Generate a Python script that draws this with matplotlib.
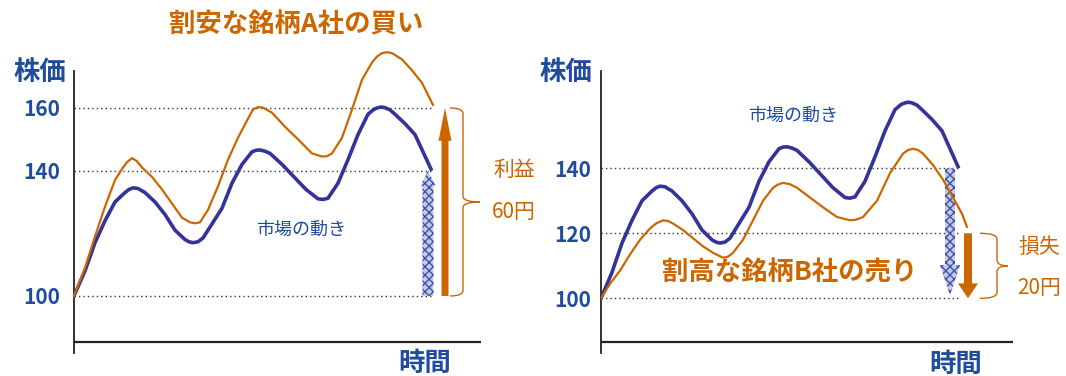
import matplotlib
matplotlib.use("Agg")
from matplotlib import pyplot as plt
from matplotlib.patches import FancyArrow, PathPatch
from matplotlib.path import Path

plt.rcParams['font.family'] = ['Noto Sans CJK JP', 'DejaVu Sans']

ORANGE = "#cc6600"
NAVY = "#333399"
TEXTBLUE = "#1f4c9c"

# market movement (shared by both panels)
market_t = [0, 1.1, 2.1, 3.1, 4.1, 5.1, 5.5, 5.9, 6.4, 7.1, 8.1, 9.1, 10.1, 11.1, 11.5,
            11.9, 12.4, 12.9, 13.8, 14.8, 15.8, 16.8, 17.8, 18.2, 18.6, 19.1, 19.6,
            20.8, 22.0, 23.2, 24.4, 24.9, 25.4, 26.4, 27.4, 28.4, 29.4, 30.0, 30.4,
            30.75, 31.1, 31.6, 32.1, 33.1, 34.1, 34.9, 35.7]
market = [100, 108, 117, 124, 130, 133, 134, 134.5, 134.3, 133, 130, 126, 121, 118,
          117.3, 117, 117.3, 118.5, 123, 128, 136, 142, 146, 146.5, 146.6, 146.2, 145.5,
          142, 138, 134, 131, 130.8, 131.2, 136, 143.5, 151.5, 158, 159.6, 160.1,
          160.3, 160.1, 159.4, 158, 155, 151.5, 146, 140.5]

# undervalued stock A
a_t = [0, 1.1, 2.1, 3.1, 4.1, 4.9, 5.3, 5.8, 6.3, 6.8, 7.8, 8.8, 9.8, 10.8, 11.6, 12.1,
       12.6, 13.4, 14.4, 15.4, 16.4, 17.3, 17.9, 18.4, 18.9, 19.8, 21.1, 22.4, 23.8,
       24.8, 25.3, 25.8, 26.8, 27.8, 28.8, 29.8, 30.3, 30.8, 31.3, 31.8, 32.8, 33.8,
       34.8, 35.9]
a_price = [100, 109, 119, 128.5, 137, 141, 142.7, 144, 143, 141, 138, 134, 129.5, 125,
           123.5, 123.2, 123.5, 127.5, 135, 143.5, 150.5, 156, 159.5, 160.3, 160.1, 158.5,
           154, 150, 145.5, 144.5, 144.6, 145.5, 150.5, 159.5, 169, 174.5, 176.4, 177.5,
           177.8, 177.5, 175.5, 172, 168, 161]

# overvalued stock B
b_t = [0, 0.9, 1.9, 2.9, 3.9, 4.9, 5.5, 6.2, 6.7, 7.2, 8.2, 9.2, 10.2, 11.2, 12.2, 12.7,
       13.2, 14.2, 15.2, 16.2, 17.2, 17.7, 18.2, 18.9, 19.6, 20.9, 22.2, 23.6, 24.9,
       25.5, 26.2, 27.6, 28.9, 30.2, 30.7, 31.2, 31.7, 32.2, 33.2, 34.2, 35.2, 36.1, 36.6]
b_price = [100, 104.5, 108.5, 113.5, 118, 121.5, 123, 124, 123.8, 123, 121, 118.5, 116,
           114, 112.5, 112.8, 114, 118, 124, 130, 134, 135, 135.5, 135.1, 134, 131, 128,
           125, 124, 124.2, 125, 130, 138.5, 144.5, 145.6, 146, 145.6, 144.5, 141, 136.5,
           131, 126, 122]

a_ticks = [100, 140, 160]
b_ticks = [100, 120, 140]
a_buy, a_sell = 100, 160      # 利益 60円
b_sell, b_buy = 120, 100      # 損失 20円
mkt_lo, mkt_hi = 100, 140


def brace(ax, xl, xm, xt, lo, hi, r):
    mid = (lo + hi) / 2
    verts = [(xl, hi), (xm, hi), (xm, hi - r), (xm, mid + r), (xm, mid), (xt, mid),
             (xt, mid), (xm, mid), (xm, mid - r), (xm, lo + r), (xm, lo), (xl, lo)]
    codes = [Path.MOVETO, Path.CURVE3, Path.CURVE3, Path.LINETO, Path.CURVE3, Path.CURVE3,
             Path.MOVETO, Path.CURVE3, Path.CURVE3, Path.LINETO, Path.CURVE3, Path.CURVE3]
    ax.add_patch(PathPatch(Path(verts, codes), fill=False, edgecolor=ORANGE, lw=1.0,
                           clip_on=False))


def setup(ax, ylim, xlim, xaxis_y, ticks, pad):
    ax.set_xlim(*xlim)
    ax.set_ylim(*ylim)
    for s in ["top", "right", "bottom"]:
        ax.spines[s].set_visible(False)
    ax.spines["left"].set_linewidth(1.3)
    ax.spines["left"].set_color("#222222")
    ax.axhline(xaxis_y, color="#222222", lw=1.6)
    ax.set_xticks([])
    ax.set_yticks(ticks)
    ax.tick_params(axis="y", length=0, pad=pad, labelsize=15, labelcolor=TEXTBLUE)
    for lab in ax.get_yticklabels():
        lab.set_fontweight("bold")
    for v in ticks:
        ax.plot([0, 36], [v, v], color="#333333", lw=1.0, ls=(0, (1, 2.2)), zorder=1)


fig = plt.figure(figsize=(10.66, 3.76), dpi=100)
W, H = 1066, 376

# ---- left: buy A ----
ax1 = fig.add_axes([74 / W, 1 - 353 / H, 407 / W, 282 / H])
setup(ax1, (81.8, 171.8), (0, 40.7), 85.3, a_ticks, 10)
ax1.add_patch(FancyArrow(35.4, mkt_lo, 0, mkt_hi - mkt_lo, width=1.1, head_width=1.5,
                         head_length=4.8, length_includes_head=True,
                         facecolor="#c3cbe8", edgecolor="#3f51a8", hatch="xxxx",
                         lw=0, zorder=2))
ax1.add_patch(FancyArrow(37.1, a_buy, 0, a_sell - a_buy, width=0.7, head_width=1.3,
                         head_length=10.5, length_includes_head=True,
                         color=ORANGE, lw=0, zorder=2))
ax1.plot(market_t, market, color=NAVY, lw=2.6, zorder=3, solid_joinstyle="round")
ax1.plot(a_t, a_price, color=ORANGE, lw=1.6, zorder=3, solid_joinstyle="round",
         clip_on=False)
brace(ax1, 37.6, 38.9, 40.6, a_buy, a_sell, 1.8)

# ---- right: sell B ----
ax2 = fig.add_axes([601 / W, 1 - 353 / H, 412 / W, 282 / H])
setup(ax2, (83.2, 169.9), (0, 41.2), 86.6, b_ticks, 7)
ax2.add_patch(FancyArrow(34.9, mkt_hi, 0, (mkt_lo + 1) - mkt_hi, width=1.0, head_width=2.0,
                         head_length=9.2, length_includes_head=True,
                         facecolor="#c3cbe8", edgecolor="#3f51a8", hatch="xxxx",
                         lw=0, zorder=2))
ax2.add_patch(FancyArrow(36.7, b_sell, 0, b_buy - b_sell, width=0.8, head_width=2.0,
                         head_length=4.6, length_includes_head=True,
                         color=ORANGE, lw=0, zorder=2))
ax2.plot(market_t, market, color=NAVY, lw=2.6, zorder=3, solid_joinstyle="round")
ax2.plot(b_t, b_price, color=ORANGE, lw=1.6, zorder=3, solid_joinstyle="round")
brace(ax2, 37.9, 39.6, 40.7, b_buy, b_sell, 1.8)


def txt(x, y, s, **kw):
    fig.text(x / W, 1 - y / H, s, ha="center", va="center", **kw)


txt(296, 25, "割安な銘柄A社の買い", color=ORANGE, fontsize=19, fontweight="bold")
txt(40, 72, "株価", color=TEXTBLUE, fontsize=19, fontweight="bold")
txt(566, 72, "株価", color=TEXTBLUE, fontsize=19, fontweight="bold")
txt(425, 363, "時間", color=TEXTBLUE, fontsize=19, fontweight="bold")
txt(956, 364, "時間", color=TEXTBLUE, fontsize=19, fontweight="bold")
txt(301, 230, "市場の動き", color=TEXTBLUE, fontsize=13)
txt(793, 116, "市場の動き", color=TEXTBLUE, fontsize=13)
txt(790, 273, "割高な銘柄B社の売り", color=ORANGE, fontsize=19, fontweight="bold", zorder=5)
txt(514, 170, "利益", color=ORANGE, fontsize=15)
txt(514, 212, f"{a_sell - a_buy}円", color=ORANGE, fontsize=15)
txt(1039, 247, "損失", color=ORANGE, fontsize=15)
txt(1039, 288, f"{b_sell - b_buy}円", color=ORANGE, fontsize=15)

fig.savefig("out.png", dpi=100, facecolor="white")
